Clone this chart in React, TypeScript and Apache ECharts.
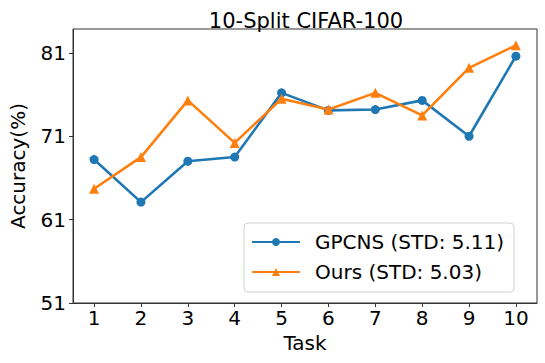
import React, { useEffect, useRef } from "react";
import * as echarts from "echarts";

const tasks = [1, 2, 3, 4, 5, 6, 7, 8, 9, 10];
const gpcns = [68.2, 63.1, 68.0, 68.5, 76.2, 74.1, 74.2, 75.3, 71.0, 80.6];
const ours = [64.7, 68.5, 75.3, 70.2, 75.5, 74.2, 76.2, 73.5, 79.2, 81.9];
const yTicks = [51, 61, 71, 81];
const seriesNames = ["GPCNS (STD: 5.11)", "Ours (STD: 5.03)"];

const FONT = "DejaVu Sans";

export default function App() {
  const ref = useRef<HTMLDivElement>(null);
  useEffect(() => {
    if (!ref.current) return;
    const chart = echarts.init(ref.current, null, { renderer: "svg" });
    chart.setOption({
      animation: false,
      backgroundColor: "#ffffff",
      title: {
        text: "10-Split CIFAR-100",
        left: 301,
        top: 5,
        textAlign: "center",
        textStyle: { fontFamily: FONT, fontSize: 21, fontWeight: "normal", color: "#000" },
      },
      grid: {
        left: 65,
        right: 8,
        top: 29,
        bottom: 60,
        show: true,
        borderColor: "#333",
        borderWidth: 1,
        backgroundColor: "transparent",
      },
      legend: {
        left: 244,
        top: 223,
        orient: "vertical",
        itemWidth: 48,
        itemHeight: 10,
        itemGap: 10,
        padding: [9, 10, 10, 7],
        backgroundColor: "rgba(255,255,255,0.8)",
        borderColor: "#d0d0d0",
        borderWidth: 1,
        borderRadius: 4,
        textStyle: {
          fontFamily: FONT,
          fontSize: 20,
          lineHeight: 20,
          color: "#000",
          padding: [0, 0, 0, 10],
        },
        data: seriesNames,
      },
      xAxis: {
        type: "value",
        min: 0.55,
        max: 10.45,
        name: "Task",
        nameLocation: "middle",
        nameGap: 28,
        nameTextStyle: { fontFamily: FONT, fontSize: 20, color: "#000", verticalAlign: "top" },
        axisLine: { show: true, lineStyle: { color: "#333", width: 1 } },
        axisTick: { show: true, length: 4, customValues: tasks, lineStyle: { color: "#333" } },
        axisLabel: {
          customValues: tasks,
          fontFamily: FONT,
          fontSize: 20,
          color: "#000",
          margin: 5,
        },
        splitLine: { show: false },
      },
      yAxis: {
        type: "value",
        min: 51,
        max: 83.86,
        name: "Accuracy(%)",
        nameLocation: "middle",
        nameGap: 45,
        nameRotate: 90,
        nameTextStyle: { fontFamily: FONT, fontSize: 20, color: "#000" },
        axisLine: { show: true, lineStyle: { color: "#333", width: 1 } },
        axisTick: { show: true, length: 4, customValues: yTicks, lineStyle: { color: "#333" } },
        axisLabel: {
          customValues: yTicks,
          fontFamily: FONT,
          fontSize: 20,
          color: "#000",
          margin: 7,
        },
        splitLine: { show: false },
      },
      series: [
        {
          name: seriesNames[0],
          type: "line",
          data: tasks.map((t, i) => [t, gpcns[i]]),
          symbol: "circle",
          symbolSize: 9,
          lineStyle: { color: "#1f77b4", width: 2.6 },
          itemStyle: { color: "#1f77b4" },
          z: 2,
        },
        {
          name: seriesNames[1],
          type: "line",
          data: tasks.map((t, i) => [t, ours[i]]),
          symbol: "triangle",
          symbolSize: 10,
          lineStyle: { color: "#ff7f0e", width: 2.6 },
          itemStyle: { color: "#ff7f0e" },
          z: 3,
        },
      ],
    });
    return () => chart.dispose();
  }, []);
  return (
    <div
      ref={ref}
      style={{ position: "absolute", left: 0, top: 0, width: 545, height: 363 }}
    />
  );
}
